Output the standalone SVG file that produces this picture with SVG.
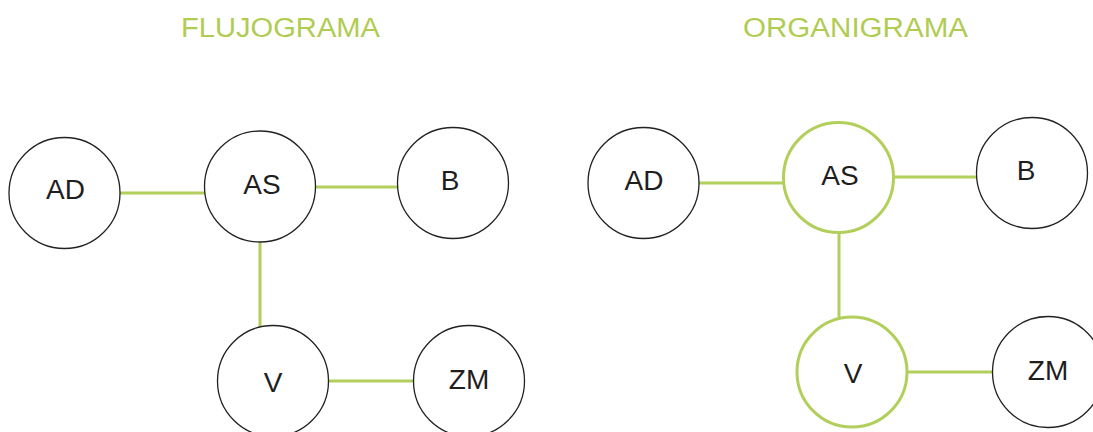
<svg xmlns="http://www.w3.org/2000/svg" width="1093" height="432" viewBox="0 0 1093 432">
<style>
.bg{fill:#fff}
.n{fill:#fff;stroke:#222;stroke-width:1.3}
.g{fill:#fff;stroke:#b2cf5c;stroke-width:3}
.t{font-family:"Liberation Sans",Arial,sans-serif;font-size:28px;fill:#1e1e1e;text-anchor:middle}
.h{font-family:"Liberation Sans",Arial,sans-serif;font-size:27px;fill:#b0cc52;text-anchor:middle}
.c{stroke:#b2cf5c;stroke-width:3;fill:none}
</style>
<rect class="bg" x="0" y="0" width="1093" height="432"/>
<text class="h" x="280.5" y="37" textLength="199" lengthAdjust="spacingAndGlyphs">FLUJOGRAMA</text>
<text class="h" x="855.5" y="37" textLength="225" lengthAdjust="spacingAndGlyphs">ORGANIGRAMA</text>
<g id="connectors">
<line class="c" x1="120" y1="193" x2="205" y2="193"/>
<line class="c" x1="315" y1="187" x2="398" y2="187"/>
<line class="c" x1="260" y1="242" x2="260" y2="327"/>
<line class="c" x1="328" y1="381" x2="414" y2="381"/>
<line class="c" x1="698" y1="183" x2="783" y2="183"/>
<line class="c" x1="894" y1="177" x2="977" y2="177"/>
<line class="c" x1="839" y1="233" x2="839" y2="317"/>
<line class="c" x1="907" y1="372" x2="993" y2="372"/>
</g>
<g id="f-ad"><circle class="n" cx="64.5" cy="193" r="55.5"/><text class="t" x="65.5" y="199">AD</text></g>
<g id="f-as"><circle class="n" cx="260" cy="186.5" r="55.5"/><text class="t" x="262" y="194">AS</text></g>
<g id="f-b"><circle class="n" cx="453" cy="183" r="55.5"/><text class="t" x="450" y="190">B</text></g>
<g id="f-v"><circle class="n" cx="273" cy="381" r="55.5"/><text class="t" x="273" y="392">V</text></g>
<g id="f-zm"><circle class="n" cx="469" cy="381" r="55.5"/><text class="t" x="469" y="389">ZM</text></g>
<g id="o-ad"><circle class="n" cx="643.5" cy="183" r="55.5"/><text class="t" x="644" y="190">AD</text></g>
<g id="o-as"><circle class="g" cx="838.5" cy="177.5" r="55"/><text class="t" x="840" y="185">AS</text></g>
<g id="o-b"><circle class="n" cx="1032" cy="173" r="55.5"/><text class="t" x="1026" y="180">B</text></g>
<g id="o-v"><circle class="g" cx="852" cy="372" r="55"/><text class="t" x="853" y="383">V</text></g>
<g id="o-zm"><circle class="n" cx="1048" cy="372" r="55.5"/><text class="t" x="1048" y="380">ZM</text></g>
</svg>
